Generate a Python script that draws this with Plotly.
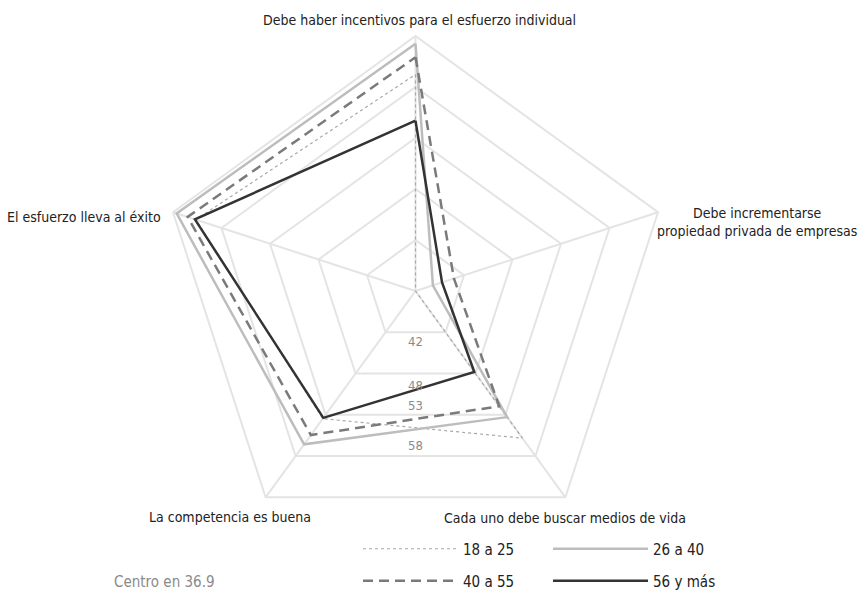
import plotly.graph_objects as go

categories = [
    "Debe haber incentivos para el esfuerzo individual",
    "Debe incrementarse<br>propiedad privada de empresas",
    "Cada uno debe buscar medios de vida",
    "La competencia es buena",
    "El esfuerzo lleva al éxito",
]
series_names = ["18 a 25", "26 a 40", "40 a 55", "56 y más"]
v_18_25 = [59.4, 36.9, 55.8, 53.3, 60.9]
v_26_40 = [62.6, 38.8, 53.1, 56.6, 63.0]
v_40_55 = [61.2, 41.1, 51.7, 55.4, 61.8]
v_56_mas = [54.6, 39.8, 47.3, 53.2, 61.0]

center_value = 36.9
ring_step = 5.3
ring_values = [center_value + ring_step * k for k in range(1, 6)]
ring_labels = ["42", "48", "53", "58"]
ring_label_pos = [42.3, 46.8, 48.9, 53.1]  # radial placement of ring labels

FONT = "Liberation Sans Narrow, DejaVu Sans Condensed, Roboto Condensed, Arial Narrow, sans-serif"

styles = {
    "18 a 25": dict(color="#a8a8a8", width=1.2, dash="dot"),
    "26 a 40": dict(color="#bdbdbd", width=2.5, dash="solid"),
    "40 a 55": dict(color="#7a7a7a", width=2.5, dash="10px,6px"),
    "56 y más": dict(color="#333333", width=2.5, dash="solid"),
}
legend_of = {"18 a 25": "legend", "26 a 40": "legend", "40 a 55": "legend2", "56 y más": "legend2"}

fig = go.Figure()
for name, vals in zip(series_names, [v_18_25, v_26_40, v_40_55, v_56_mas]):
    fig.add_trace(go.Scatterpolar(
        r=vals + vals[:1], theta=categories + categories[:1], mode="lines", name=name,
        line=styles[name], legend=legend_of[name], hoverinfo="skip",
    ))

# ring value labels, placed straight down from the centre on an overlaid numeric polar
fig.add_trace(go.Scatterpolar(
    r=ring_label_pos, theta=[180] * len(ring_label_pos), mode="text", text=ring_labels,
    textfont=dict(family=FONT, size=13, color="#8a8a8a"), showlegend=False, hoverinfo="skip",
    subplot="polar2",
))

cx, cy, R = 415.5, 291, 255
W, H = 858, 602
dom = dict(x=[(cx - R) / W, (cx + R) / W], y=[1 - (cy + R) / H, 1 - (cy - R) / H])

# category label anchor points (paper px), around the outer pentagon
label_layout = [
    dict(x=419, y=20, xanchor="center", size=14),
    dict(x=757, y=222, xanchor="center", size=14),
    dict(x=565, y=518, xanchor="center", size=14),
    dict(x=230, y=517, xanchor="center", size=14),
    dict(x=163, y=217, xanchor="right", size=14),
]
annotations = []
for cat, pos in zip(categories, label_layout):
    annotations.append(dict(text=cat, x=pos["x"] / W, y=1 - pos["y"] / H, xref="paper", yref="paper",
                            xanchor=pos["xanchor"], yanchor="middle", align="center", showarrow=False,
                            font=dict(family=FONT, size=pos["size"], color="#222222")))
annotations.append(dict(text="Centro en 36.9", x=164 / W, y=1 - 582 / H, xref="paper", yref="paper",
                        xanchor="center", yanchor="middle", showarrow=False,
                        font=dict(family=FONT, size=15, color="#8a8a8a")))

legend_common = dict(orientation="h", xanchor="left", yanchor="middle",
                     entrywidth=80, entrywidthmode="pixels", itemwidth=95,
                     font=dict(family=FONT, size=15, color="#222222"), bgcolor="rgba(0,0,0,0)")

fig.update_layout(
    width=W, height=H, margin=dict(l=0, r=0, t=0, b=0),
    paper_bgcolor="white", plot_bgcolor="white",
    font=dict(family=FONT, size=14, color="#222222"),
    polar=dict(
        domain=dom, bgcolor="white", gridshape="linear",
        radialaxis=dict(range=[center_value, ring_values[-1]], tickvals=ring_values,
                        showticklabels=False, ticks="", showline=False,
                        gridcolor="#e4e4e4", gridwidth=2),
        angularaxis=dict(rotation=90, direction="clockwise", type="category",
                         ticks="", showticklabels=False, showline=True,
                         linecolor="#e4e4e4", linewidth=2, gridcolor="#e4e4e4", gridwidth=2),
    ),
    polar2=dict(
        domain=dom, bgcolor="rgba(0,0,0,0)",
        radialaxis=dict(range=[center_value, ring_values[-1]], visible=False),
        angularaxis=dict(rotation=90, direction="clockwise", visible=False),
    ),
    legend=dict(x=358 / W, y=1 - 549 / H, **legend_common),
    legend2=dict(x=358 / W, y=1 - 581 / H, **legend_common),
    annotations=annotations,
)

fig.write_html("out.html", config={"displayModeBar": False, "staticPlot": True},
               post_script="document.body.style.margin='0px';")
